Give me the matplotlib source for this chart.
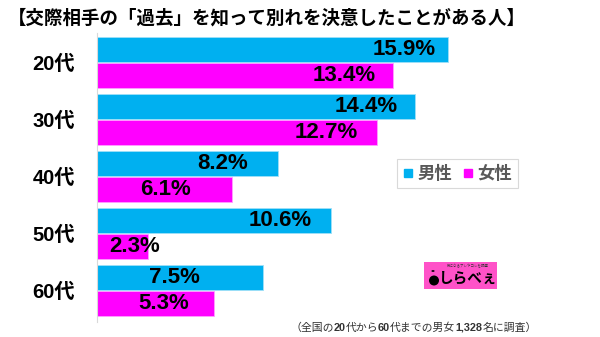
import matplotlib
matplotlib.use("Agg")
import matplotlib.pyplot as plt
import numpy as np
from matplotlib.patches import Rectangle, Ellipse, Circle
from matplotlib.lines import Line2D

plt.rcParams["font.family"] = ["Liberation Sans", "Noto Sans CJK JP"]

title = "【交際相手の「過去」を知って別れを決意したことがある人】"
ages = ["20代", "30代", "40代", "50代", "60代"]
male = [15.9, 14.4, 8.2, 10.6, 7.5]
female = [13.4, 12.7, 6.1, 2.3, 5.3]
series_names = ["男性", "女性"]

# where each value label sits (center, in % units)
male_label_x = [13.9, 12.2, 5.7, 8.3, 3.5]
female_label_x = [11.2, 10.4, 3.1, 1.7, 3.0]

BLUE = "#00B0F0"
PINK = "#FF00FF"

W, H = 600, 337
fig = plt.figure(figsize=(W / 100, H / 100), dpi=100)
ax = fig.add_axes([97 / W, 15 / H, (W - 97) / W, 289 / H])

y = np.arange(len(ages))
off = 0.228
hgt = 0.447
ax.barh(y - off, male, height=hgt, color=BLUE, edgecolor="#9fe0f8", linewidth=0.6)
ax.barh(y + off, female, height=hgt, color=PINK, edgecolor="#ff9fff", linewidth=0.6)

for i in range(len(ages)):
    ax.text(male_label_x[i], y[i] - off, f"{male[i]}%", ha="center", va="center",
            fontsize=16, fontweight="bold", color="black")
    ax.text(female_label_x[i], y[i] + off, f"{female[i]}%", ha="center", va="center",
            fontsize=16, fontweight="bold", color="black")

ax.set_xlim(0, (W - 97) / 22.08)
ax.set_ylim(4.55, -0.52)
ax.set_yticks(y)
ax.set_yticklabels(ages, fontsize=14.5, fontweight="bold")
ax.tick_params(axis="y", length=0, pad=16)
ax.set_xticks([])
for s in ["top", "right", "bottom"]:
    ax.spines[s].set_visible(False)
ax.spines["left"].set_color("#d9d9d9")
ax.spines["left"].set_linewidth(0.8)

fig.text(8 / W, 1 - 18 / H, title, ha="left", va="center", fontsize=13.3,
         fontweight="bold", color="black")

handles = [Line2D([], [], marker="s", linestyle="none", markersize=5.5, color=c)
           for c in (BLUE, PINK)]
leg = fig.legend(handles, series_names, loc="center", bbox_to_anchor=(457.5 / W, 1 - 173.5 / H),
                 ncol=2, fancybox=False, handlelength=0.6, handletextpad=0.25,
                 columnspacing=0.6, borderpad=0.35,
                 prop={"size": 12.5, "weight": "bold"})
leg.get_frame().set_edgecolor("#d0d0d0")
leg.get_frame().set_linewidth(0.8)
for t in leg.get_texts():
    t.set_color("#595959")

# small site badge
fig.patches.append(Rectangle((424 / W, 48 / H), 73 / W, 27 / H, transform=fig.transFigure,
                             facecolor="#FF52C8", edgecolor="none"))
fig.patches.append(Ellipse((434 / W, 56.5 / H), 10 / W, 10 / H, transform=fig.transFigure,
                           facecolor="black", edgecolor="none"))
fig.patches.append(Circle((433 / W, 66 / H), 1.6 / W, transform=fig.transFigure,
                          facecolor="black", edgecolor="none"))
fig.text(468 / W, 58 / H, "しらべぇ", ha="center", va="center", fontsize=10.5,
         fontweight="bold", color="black")
fig.text(468 / W, 70.5 / H, "気になるアレやコレを調査", ha="center", va="center",
         fontsize=2.5, color="#333333")

# footnote, numbers in bold; pieces laid out one after another on a shared baseline
parts = [("（全国の", "normal"), ("20", "bold"), ("代から", "normal"), ("60", "bold"),
         ("代までの男女", "normal"), ("1,328", "bold"), ("名に調査）", "normal")]
renderer = fig.canvas.get_renderer()
x = 290
for txt, wt in parts:
    t = fig.text(x / W, 1 - 331 / H, txt, ha="left", va="baseline",
                 fontsize=7.8, fontweight=wt, color="#333333")
    x += t.get_window_extent(renderer).width

fig.savefig("out.png", dpi=100)
